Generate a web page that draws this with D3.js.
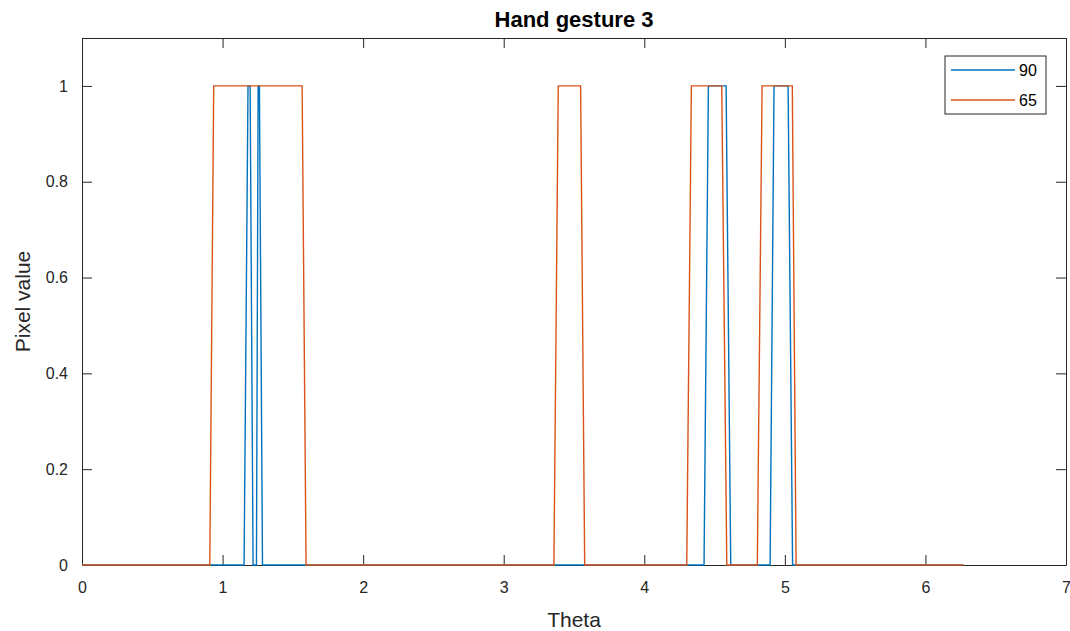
<!DOCTYPE html>
<html>
<head>
<meta charset="utf-8">
<script src="https://cdn.jsdelivr.net/npm/d3@7"></script>
<style>
  body { margin: 0; background: #fff; }
  svg { display: block; font-family: "Liberation Sans", Arial, sans-serif; }
  .axis text { fill: #262626; font-size: 16px; }
</style>
</head>
<body>
<svg id="chart" width="1070" height="631"></svg>
<script>
const blueTheta = [0, 1.153, 1.181, 1.196, 1.217, 1.241, 1.253, 1.262, 1.284,
  4.425, 4.456, 4.582, 4.615, 4.895, 4.923, 5.023, 5.055, 6.27];
const blueValue = [0, 0, 1, 1, 0, 0, 1, 1, 0, 0, 1, 1, 0, 0, 1, 1, 0, 0];

const orangeTheta = [0, 0.909, 0.937, 1.566, 1.594, 3.357, 3.388, 3.547, 3.576,
  4.302, 4.335, 4.551, 4.587, 4.804, 4.838, 5.053, 5.08, 6.27];
const orangeValue = [0, 0, 1, 1, 0, 0, 1, 1, 0, 0, 1, 1, 0, 0, 1, 1, 0, 0];

const seriesNames = ["90", "65"];
const seriesColors = ["#0072BD", "#D95319"];
const xTicks = [0, 1, 2, 3, 4, 5, 6, 7];
const yTicks = [0, 0.2, 0.4, 0.6, 0.8, 1];

const svg = d3.select("#chart");
const margin = { top: 38, right: 4, bottom: 66, left: 82 };
const width = 1070 - margin.left - margin.right;
const height = 631 - margin.top - margin.bottom;

const x = d3.scaleLinear().domain([0, 7]).range([0, width]);
const y = d3.scaleLinear().domain([0, 1.1]).range([height, 0]);

const g = svg.append("g")
  .attr("transform", `translate(${margin.left},${margin.top})`);

const series = [
  { name: seriesNames[0], color: seriesColors[0], pts: blueTheta.map((t, i) => [t, blueValue[i]]) },
  { name: seriesNames[1], color: seriesColors[1], pts: orangeTheta.map((t, i) => [t, orangeValue[i]]) }
];

const fmt = d => d3.format("~g")(d);

// axes box, ticks pointing inward on all sides
const tickLen = 10;
function styleAxis(sel) {
  sel.select(".domain").attr("stroke", "#262626");
  sel.selectAll(".tick line").attr("stroke", "#262626");
}

g.append("g").attr("class", "axis")
  .attr("transform", `translate(0,${height})`)
  .call(d3.axisBottom(x).tickValues(xTicks).tickSize(-tickLen).tickPadding(17)
    .tickSizeOuter(0).tickFormat(fmt))
  .call(styleAxis);

g.append("g").attr("class", "axis")
  .call(d3.axisTop(x).tickValues(xTicks).tickSize(-tickLen).tickFormat("").tickSizeOuter(0))
  .call(styleAxis);

g.append("g").attr("class", "axis")
  .call(d3.axisLeft(y).tickValues(yTicks).tickSize(-tickLen).tickPadding(14)
    .tickSizeOuter(0).tickFormat(fmt))
  .call(styleAxis);

g.append("g").attr("class", "axis")
  .attr("transform", `translate(${width},0)`)
  .call(d3.axisRight(y).tickValues(yTicks).tickSize(-tickLen).tickFormat("").tickSizeOuter(0))
  .call(styleAxis);

// lines
const line = d3.line().x(d => x(d[0])).y(d => y(d[1]));
g.selectAll(".series")
  .data(series)
  .enter().append("path")
  .attr("class", "series")
  .attr("d", d => line(d.pts))
  .attr("fill", "none")
  .attr("stroke", d => d.color)
  .attr("stroke-width", 1.4);

// title and labels
svg.append("text")
  .attr("x", margin.left + width / 2)
  .attr("y", 27)
  .attr("text-anchor", "middle")
  .style("font-size", "22px")
  .style("font-weight", "bold")
  .style("fill", "#000")
  .text("Hand gesture 3");

svg.append("text")
  .attr("x", margin.left + width / 2)
  .attr("y", 627)
  .attr("text-anchor", "middle")
  .style("font-size", "21px")
  .style("fill", "#262626")
  .text("Theta");

svg.append("text")
  .attr("transform", `translate(30,${margin.top + y(0.55)}) rotate(-90)`)
  .attr("text-anchor", "middle")
  .style("font-size", "21px")
  .style("fill", "#262626")
  .text("Pixel value");

// legend
const legend = svg.append("g").attr("transform", "translate(945,56)");
legend.append("rect")
  .attr("width", 101).attr("height", 58)
  .attr("fill", "#fff").attr("stroke", "#262626");
series.forEach((s, i) => {
  const ly = 14 + i * 30;
  legend.append("line")
    .attr("x1", 6).attr("x2", 70).attr("y1", ly).attr("y2", ly)
    .attr("stroke", s.color).attr("stroke-width", 1.4);
  legend.append("text")
    .attr("x", 74).attr("y", ly).attr("dy", "0.35em")
    .style("font-size", "16px").style("fill", "#000")
    .text(s.name);
});
</script>
</body>
</html>
